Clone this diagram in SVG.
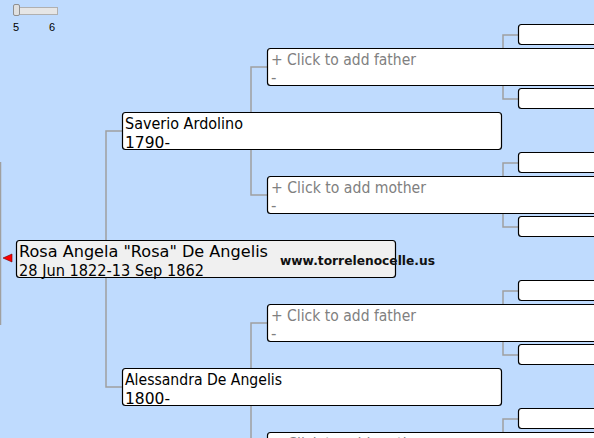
<svg xmlns="http://www.w3.org/2000/svg" width="594" height="438" viewBox="0 0 594 438">
<style>
.bg{fill:#BFDBFE}
.con{fill:none;stroke:#A0A0A0;stroke-width:1.5}
.box{fill:#FFFFFF;stroke:#000000;stroke-width:1.2}
.root{fill:#F0F0F0;stroke:#000000;stroke-width:1.2}
.t{font-family:"DejaVu Sans",Verdana,sans-serif;font-size:15px;fill:#000000}
.g{font-family:"DejaVu Sans",Verdana,sans-serif;font-size:15px;fill:#808080}
.s{font-family:"Liberation Sans",Arial,sans-serif;font-size:11px;fill:#000000}
.wm{font-family:"DejaVu Sans",Verdana,sans-serif;font-size:12.5px;font-weight:bold;fill:#111111}
</style>
<rect class="bg" x="0" y="0" width="594" height="438"/>
<g id="slider">
<rect x="13.5" y="7.5" width="44" height="7" fill="#E6E6E6" stroke="#B0B0B0"/>
<rect x="13.5" y="4.5" width="6" height="11" rx="1.5" fill="#E0E0E0" stroke="#909090"/>
<text class="s" x="13" y="31">5</text>
<text class="s" x="49" y="31">6</text>
</g>
<g id="connectors">
<line class="con" x1="0.5" y1="162" x2="0.5" y2="325"/>
<polyline class="con" points="122,131 106,131 106,387 122,387"/>
<polyline class="con" points="267,67 251,67 251,195 267,195"/>
<polyline class="con" points="267,323 251,323 251,451 267,451"/>
<polyline class="con" points="519,35 503,35 503,99 519,99"/>
<polyline class="con" points="519,163 503,163 503,227 519,227"/>
<polyline class="con" points="519,291 503,291 503,355 519,355"/>
<polyline class="con" points="519,419 503,419 503,483 519,483"/>
</g>
<g id="gen3">
<rect class="box" x="518.5" y="24.5" width="400" height="20" rx="3"/>
<rect class="box" x="518.5" y="88.5" width="400" height="20" rx="3"/>
<rect class="box" x="518.5" y="152.5" width="400" height="20" rx="3"/>
<rect class="box" x="518.5" y="216.5" width="400" height="20" rx="3"/>
<rect class="box" x="518.5" y="280.5" width="400" height="20" rx="3"/>
<rect class="box" x="518.5" y="344.5" width="400" height="20" rx="3"/>
<rect class="box" x="518.5" y="408.5" width="400" height="20" rx="3"/>
</g>
<g id="father1">
<rect class="box" x="267.5" y="48.5" width="380" height="37" rx="3"/>
<text class="g" x="271" y="65" textLength="145" lengthAdjust="spacingAndGlyphs">+ Click to add father</text>
<text class="g" x="271" y="83">-</text>
</g>
<g id="mother1">
<rect class="box" x="267.5" y="176.5" width="380" height="37" rx="3"/>
<text class="g" x="271" y="193" textLength="155" lengthAdjust="spacingAndGlyphs">+ Click to add mother</text>
<text class="g" x="271" y="211">-</text>
</g>
<g id="father2">
<rect class="box" x="267.5" y="304.5" width="380" height="37" rx="3"/>
<text class="g" x="271" y="321" textLength="145" lengthAdjust="spacingAndGlyphs">+ Click to add father</text>
<text class="g" x="271" y="339">-</text>
</g>
<g id="mother2">
<rect class="box" x="267.5" y="432.5" width="380" height="37" rx="3"/>
<text class="g" x="271" y="449" textLength="155" lengthAdjust="spacingAndGlyphs">+ Click to add mother</text>
</g>
<g id="saverio">
<rect class="box" x="122.5" y="112.5" width="379" height="37" rx="3"/>
<text class="t" x="125" y="129" textLength="118" lengthAdjust="spacingAndGlyphs">Saverio Ardolino</text>
<text class="t" x="125" y="148" textLength="45" lengthAdjust="spacingAndGlyphs">1790-</text>
</g>
<g id="alessandra">
<rect class="box" x="122.5" y="368.5" width="379" height="37" rx="3"/>
<text class="t" x="125" y="385" textLength="157" lengthAdjust="spacingAndGlyphs">Alessandra De Angelis</text>
<text class="t" x="125" y="404" textLength="45" lengthAdjust="spacingAndGlyphs">1800-</text>
</g>
<g id="rosa">
<polygon points="3,258 12,254 12,262" fill="#FF0000" stroke="#700000" stroke-width="0.6"/>
<rect class="root" x="16.5" y="240.5" width="379" height="37" rx="3"/>
<text class="t" x="19" y="257" textLength="249" lengthAdjust="spacingAndGlyphs">Rosa Angela "Rosa" De Angelis</text>
<text class="t" x="19" y="276" textLength="185" lengthAdjust="spacingAndGlyphs">28 Jun 1822-13 Sep 1862</text>
</g>
<text class="wm" x="280" y="265" textLength="155" lengthAdjust="spacingAndGlyphs">www.torrelenocelle.us</text>
</svg>
